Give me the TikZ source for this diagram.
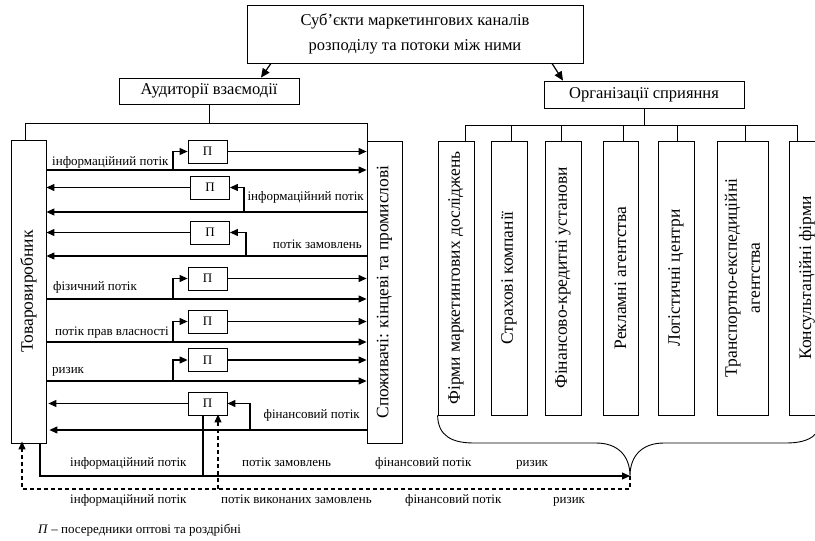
\documentclass[tikz,border=0pt]{standalone}
\usepackage{fontspec}
\setmainfont{Liberation Serif}
\usetikzlibrary{arrows.meta,calc}
\begin{document}
\begin{tikzpicture}[x=1pt,y=-1pt,
  box/.style={draw, line width=0.8pt, inner sep=0pt},
  pbox/.style={box, minimum width=39pt, minimum height=23pt, font=\fontsize{13}{13}\selectfont},
  tip/.style={-{Triangle[length=8pt,width=7pt]}},
  flow/.style={line width=1.1pt, tip},
  plain/.style={line width=1.1pt},
  thinline/.style={line width=0.9pt},
  lbl/.style={font=\fontsize{13}{13}\selectfont, inner sep=0pt},
  big/.style={font=\fontsize{16.5}{16.5}\selectfont},
  vtext/.style={rotate=90, font=\fontsize{17.5}{23}\selectfont, inner sep=0pt, align=center},
  dsh/.style={line width=1.1pt, dash pattern=on 4pt off 3pt}
]
\useasboundingbox (0,0) rectangle (815,541);

% top level
\node[box, minimum width=336pt, minimum height=58pt, align=center, font=\fontsize{16.5}{25}\selectfont] (top) at (415,34) {Суб’єкти маркетингових каналів\\розподілу та потоки між ними};
\node[box, big, minimum width=180pt, minimum height=26pt] (aud) at (209,91) {Аудиторії взаємодії};
\node[box, big, minimum width=200pt, minimum height=27pt] (org) at (644,94.5) {Організації сприяння};
\draw[line width=1.2pt, -{Triangle[length=9pt,width=8pt]}] (top.south -| 271,0) -- (aud.north -| 261,0);
\draw[line width=1.2pt, -{Triangle[length=9pt,width=8pt]}] (top.south -| 552,0) -- (org.north -| 563,0);

% left panel boxes
\node[box, minimum width=35pt, minimum height=303pt] (tv) at (28.5,291.5) {};
\node[vtext] (tvt) at (tv.center) {Товаровиробник};
\node[box, minimum width=35pt, minimum height=302pt] (sp) at (384.5,292) {};
\node[vtext] (spt) at (sp.center) {Споживачі: кінцеві та промислові};

\coordinate (bl) at (25,123);
\coordinate (br) at (367,123);
\draw[thinline] (tv.north -| bl) -- (bl) -- (br) -- (sp.north -| br);
\draw[thinline] (aud.south) -- (aud.south |- bl);

% intermediaries
\node[pbox] (p1) at (207.5,151.5) {П};
\node[pbox] (p2) at (210,187.5) {П};
\node[pbox] (p3) at (210,232.5) {П};
\node[pbox] (p4) at (207.5,278.5) {П};
\node[pbox] (p5) at (207.5,321.5) {П};
\node[pbox] (p6) at (207.5,360) {П};
\node[pbox] (p7) at (207.5,403.5) {П};

% row 1 (right)
\coordinate (r1) at (173,170);
\draw[flow] (tv.east |- r1) -- (sp.west |- r1);
\draw[flow] (r1) |- (p1.west);
\draw[flow] (p1.east) -- (sp.west |- p1.east);
\node[lbl, anchor=base west] (l1) at (52,165) {інформаційний потік};
% row 2 (left)
\coordinate (r2) at (244,212);
\draw[flow] (sp.west |- r2) -- (tv.east |- r2);
\draw[flow] (r2) |- (p2.east);
\draw[flow] (p2.west) -- (tv.east |- p2.west);
\node[lbl, anchor=base east] (l2) at (364,200) {інформаційний потік};
% row 3 (left)
\coordinate (r3) at (246,256);
\draw[flow] (sp.west |- r3) -- (tv.east |- r3);
\draw[flow] (r3) |- (p3.east);
\draw[flow] (p3.west) -- (tv.east |- p3.west);
\node[lbl, anchor=base east] (l3) at (362,248) {потік замовлень};
% row 4 (right)
\coordinate (r4) at (173,299);
\draw[flow] (tv.east |- r4) -- (sp.west |- r4);
\draw[flow] (r4) |- (p4.west);
\draw[flow] (p4.east) -- (sp.west |- p4.east);
\node[lbl, anchor=base west] (l4) at (53,290) {фізичний потік};
% row 5 (right)
\coordinate (r5) at (173,342);
\draw[flow] (tv.east |- r5) -- (sp.west |- r5);
\draw[flow] (r5) |- (p5.west);
\draw[flow] (p5.east) -- (sp.west |- p5.east);
\node[lbl, anchor=base west] (l5) at (55,335) {потік прав власності};
% row 6 (right)
\coordinate (r6) at (173,381);
\draw[flow] (tv.east |- r6) -- (sp.west |- r6);
\draw[flow] (r6) |- (p6.west);
\draw[flow] (p6.east) -- (sp.west |- p6.east);
\node[lbl, anchor=base west] (l6) at (52,373) {ризик};
% row 7 (left)
\coordinate (r7) at (250,430);
\draw[flow, shorten >=3pt] (sp.west |- r7) -- (tv.east |- r7);
\draw[flow] (r7) |- (p7.east);
\draw[flow, shorten >=2pt] (p7.west) -- (tv.east |- p7.west);
\node[lbl, anchor=base east] (l7) at (360,418) {фінансовий потік};

% bottom flows
\coordinate (tipc) at (630,476);
\coordinate (bs) at (40,476);
\coordinate (v7) at (203,476);
\draw[flow] (tv.south -| bs) -- (bs) -- (tipc);
\draw[plain] (p7.south -| v7) -- (v7);
\coordinate (dl) at (22,489);
\coordinate (dr) at (630,489);
\coordinate (dm) at (218,489);
\draw[dsh, tip] (tipc) -- (dr) -- (dl) -- ([yshift=2pt]tv.south -| dl);
\draw[dsh, tip] (dm) -- ([yshift=1pt]p7.south -| dm);

\node[lbl, anchor=base west] (u1) at (70,466) {інформаційний потік};
\node[lbl, anchor=base west] (u2) at (242,466) {потік замовлень};
\node[lbl, anchor=base west] (u3) at (375,466) {фінансовий потік};
\node[lbl, anchor=base west] (u4) at (516,466) {ризик};
\node[lbl, anchor=base west] (d1) at (70,503) {інформаційний потік};
\node[lbl, anchor=base west] (d2) at (221,503) {потік виконаних замовлень};
\node[lbl, anchor=base west] (d3) at (405,503) {фінансовий потік};
\node[lbl, anchor=base west] (d4) at (553,503) {ризик};

\node[lbl, anchor=base west] (fn) at (38,533) {\textit{П} – посередники оптові та роздрібні};

% right panel
\coordinate (ob) at (644,125);
\draw[thinline] (org.south) -- (ob);
\draw[thinline] (465,125) -- (797,125);
\node[box, minimum width=36pt, minimum height=274pt] (b1) at (456,278) {};
\node[box, minimum width=36pt, minimum height=274pt] (b2) at (509,278) {};
\node[box, minimum width=36pt, minimum height=274pt] (b3) at (563,278) {};
\node[box, minimum width=35pt, minimum height=274pt] (b4) at (620.5,278) {};
\node[box, minimum width=36pt, minimum height=274pt] (b5) at (676,278) {};
\node[box, minimum width=51pt, minimum height=274pt] (b6) at (742.5,278) {};
\node[box, minimum width=36pt, minimum height=274pt] (b7) at (807,278) {};
\node[vtext] (t1) at (b1.center) {Фірми маркетингових досліджень};
\node[vtext] (t2) at (b2.center) {Страхові компанії};
\node[vtext] (t3) at (b3.center) {Фінансово-кредитні установи};
\node[vtext] (t4) at (b4.center) {Рекламні агентства};
\node[vtext] (t5) at (b5.center) {Логістичні центри};
\node[vtext] (t6) at (b6.center) {Транспортно-експедиційні\\агентства};
\node[vtext] (t7) at (b7.center) {Консультаційні фірми};
\foreach \xx/\bb in {465/b1,511/b2,561/b3,623/b4,677/b5,745/b6,797/b7}{
  \draw[thinline] (\xx,125) -- (\bb.north -| \xx,0);
}
% brace
\draw[thinline] (b1.south west) .. controls (438,436) and (452,443) .. (474,443) -- (596,443)
  .. controls (618,443) and (630,456) .. (tipc)
  .. controls (630,456) and (642,443) .. (664,443) -- (786,443)
  .. controls (808,443) and (822,436) .. (822,415);
\end{tikzpicture}
\end{document}
